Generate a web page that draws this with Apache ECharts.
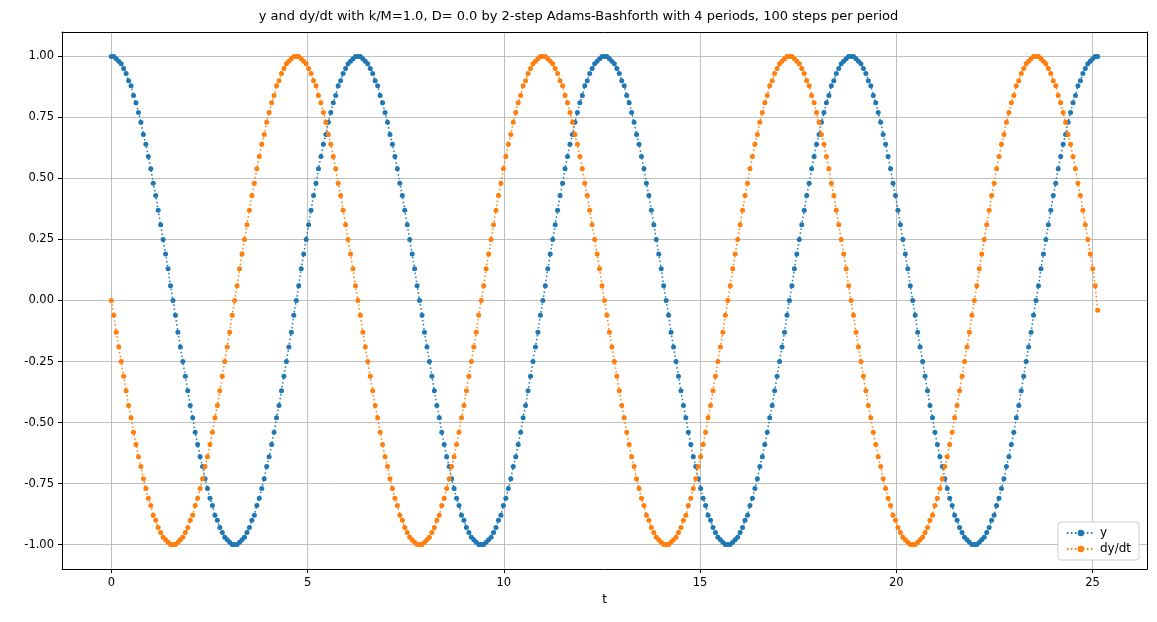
<!DOCTYPE html>
<html><head><meta charset="utf-8">
<script src="https://cdn.jsdelivr.net/npm/echarts@6/dist/echarts.min.js"></script>
<style>html,body{margin:0;padding:0;background:#fff}#c{width:1157px;height:622px}</style>
</head><body><div id="c"></div>
<script>
// one period (100 steps)
const yPeriod = [1.00,1.00,0.99,0.98,0.97,0.95,0.93,0.90,0.88,0.84,0.81,0.77,0.73,0.68,0.64,0.59,0.54,0.48,0.43,0.37,0.31,0.25,0.19,0.13,0.06,
0.00,-0.06,-0.13,-0.19,-0.25,-0.31,-0.37,-0.43,-0.48,-0.54,-0.59,-0.64,-0.68,-0.73,-0.77,-0.81,-0.84,-0.88,-0.90,-0.93,-0.95,-0.97,-0.98,-0.99,-1.00,
-1.00,-1.00,-0.99,-0.98,-0.97,-0.95,-0.93,-0.90,-0.88,-0.84,-0.81,-0.77,-0.73,-0.68,-0.64,-0.59,-0.54,-0.48,-0.43,-0.37,-0.31,-0.25,-0.19,-0.13,-0.06,
0.00,0.06,0.13,0.19,0.25,0.31,0.37,0.43,0.48,0.54,0.59,0.64,0.68,0.73,0.77,0.81,0.84,0.88,0.90,0.93,0.95,0.97,0.98,0.99,1.00];
const dyPeriod = [0.00,-0.06,-0.13,-0.19,-0.25,-0.31,-0.37,-0.43,-0.48,-0.54,-0.59,-0.64,-0.68,-0.73,-0.77,-0.81,-0.84,-0.88,-0.90,-0.93,-0.95,-0.97,-0.98,-0.99,-1.00,
-1.00,-1.00,-0.99,-0.98,-0.97,-0.95,-0.93,-0.90,-0.88,-0.84,-0.81,-0.77,-0.73,-0.68,-0.64,-0.59,-0.54,-0.48,-0.43,-0.37,-0.31,-0.25,-0.19,-0.13,-0.06,
0.00,0.06,0.13,0.19,0.25,0.31,0.37,0.43,0.48,0.54,0.59,0.64,0.68,0.73,0.77,0.81,0.84,0.88,0.90,0.93,0.95,0.97,0.98,0.99,1.00,
1.00,1.00,0.99,0.98,0.97,0.95,0.93,0.90,0.88,0.84,0.81,0.77,0.73,0.68,0.64,0.59,0.54,0.48,0.43,0.37,0.31,0.25,0.19,0.13,0.06];
const periods = 4;
const stepsPerPeriod = 100;
const periodLength = 6.2832;
const yLast = 1.00, dyLast = -0.04;
const xTicks = [0,5,10,15,20,25];
const yTicks = [-1.00,-0.75,-0.50,-0.25,0.00,0.25,0.50,0.75,1.00];

const ys=[], dys=[];
for(let p=0;p<periods;p++) for(let k=0;k<stepsPerPeriod;k++){
  const t=(p*stepsPerPeriod+k)*periodLength/stepsPerPeriod;
  ys.push([t,yPeriod[k]]); dys.push([t,dyPeriod[k]]);
}
const tEnd=periods*periodLength;
ys.push([tEnd,yLast]); dys.push([tEnd,dyLast]);

const font='DejaVu Sans';
const mk=(name,data,color)=>({name,type:'line',data,symbol:'circle',symbolSize:5,
  itemStyle:{color},lineStyle:{color,width:1.5,type:[1.5,2.5]},animation:false});
const frameX={type:'value',min:-1.257,max:26.39,position:'top',axisLine:{show:true,onZero:false,lineStyle:{color:'#000'}},
  axisTick:{show:false},axisLabel:{show:false},splitLine:{show:false}};
const frameY={type:'value',min:-1.1,max:1.1,position:'right',axisLine:{show:true,onZero:false,lineStyle:{color:'#000'}},
  axisTick:{show:false},axisLabel:{show:false},splitLine:{show:false}};
const chart=echarts.init(document.getElementById('c'));
chart.setOption({
  textStyle:{fontFamily:font},
  title:{text:'y and dy/dt with k/M=1.0, D= 0.0 by 2-step Adams-Bashforth with 4 periods, 100 steps per period',
    left:'center',top:5,textStyle:{fontSize:13,fontWeight:'normal',color:'#000',fontFamily:font}},
  grid:{left:62,right:10,top:32,bottom:53},
  xAxis:[{type:'value',min:-1.257,max:26.39,name:'t',nameLocation:'middle',nameGap:24,
    nameTextStyle:{color:'#000',fontSize:12},
    axisLine:{onZero:false,lineStyle:{color:'#000'}},
    axisTick:{customValues:xTicks,length:4,lineStyle:{color:'#000'}},
    axisLabel:{customValues:xTicks,color:'#000',fontSize:11.5},
    splitLine:{show:true,lineStyle:{color:'#b0b0b0',width:0.8}}},frameX],
  yAxis:[{type:'value',min:-1.1,max:1.1,
    axisLine:{show:true,onZero:false,lineStyle:{color:'#000'}},
    axisTick:{show:true,customValues:yTicks,length:4,lineStyle:{color:'#000'}},
    axisLabel:{customValues:yTicks,color:'#000',fontSize:11.5,formatter:v=>v.toFixed(2)},
    splitLine:{show:true,lineStyle:{color:'#b0b0b0',width:0.8}}},frameY],
  legend:{orient:'vertical',right:18,bottom:62,backgroundColor:'#fff',borderColor:'#ccc',borderWidth:1,
    borderRadius:3,padding:[5,8],itemGap:4,itemWidth:28,itemHeight:8,textStyle:{fontSize:12,color:'#000'},
    data:['y','dy/dt']},
  series:[mk('y',ys,'#1f77b4'),mk('dy/dt',dys,'#ff7f0e')]
});
</script></body></html>
